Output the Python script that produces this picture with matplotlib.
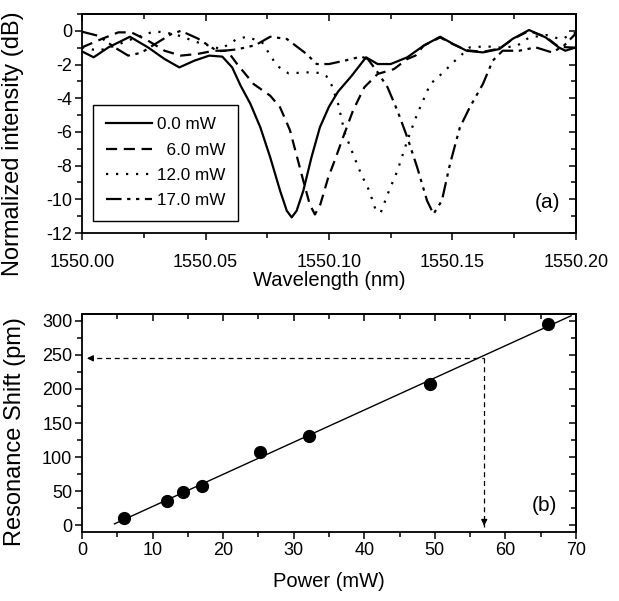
import numpy as np
import matplotlib
matplotlib.use('Agg')
import matplotlib.pyplot as plt
from matplotlib.ticker import MultipleLocator

plt.rcParams['font.family'] = ['Liberation Sans', 'DejaVu Sans']

# (a) transmission spectra, wavelength in nm, intensity in dB
wl_0mw = [1550.000, 1550.0047, 1550.0107, 1550.0194, 1550.0267, 1550.0334, 1550.0394, 1550.0455,
          1550.0515, 1550.0568, 1550.0608, 1550.0642, 1550.0682, 1550.0722, 1550.0762, 1550.0802,
          1550.0829, 1550.0849, 1550.0869, 1550.0896, 1550.0929, 1550.0963, 1550.1000, 1550.1037,
          1550.1090, 1550.1150, 1550.1197, 1550.1250, 1550.1317, 1550.1383, 1550.1450, 1550.1503,
          1550.1557, 1550.1623, 1550.1690, 1550.1743, 1550.1810, 1550.1877, 1550.1930, 1550.1957,
          1550.2000]
db_0mw = [-1.22, -1.57, -0.98, -0.35, -0.98, -1.67, -2.17, -1.77, -1.47, -1.53, -2.17, -3.25,
          -4.34, -5.73, -7.51, -9.49, -10.68, -11.07, -10.68, -9.49, -7.51, -5.73, -4.5, -3.6,
          -2.7, -1.57, -1.97, -1.97, -1.57, -0.88, -0.35, -0.78, -1.18, -1.28, -1.08, -0.48,
          0.05, -0.39, -0.98, -1.18, -0.98]

wl_6mw = [1550.000, 1550.008, 1550.0147, 1550.020, 1550.0267, 1550.0334, 1550.040, 1550.0468,
          1550.0535, 1550.0588, 1550.0628, 1550.0695, 1550.0762, 1550.0802, 1550.0842, 1550.0869,
          1550.0896, 1550.0922, 1550.0943, 1550.0965, 1550.0997, 1550.1023, 1550.1057, 1550.1097,
          1550.1143, 1550.1197, 1550.1263, 1550.1317, 1550.135, 1550.1383, 1550.145, 1550.1503,
          1550.1557, 1550.1623, 1550.169, 1550.1743, 1550.181, 1550.1877, 1550.193, 1550.200]
db_6mw = [-0.98, -0.48, -0.09, -0.09, -0.58, -1.18, -1.47, -1.37, -1.18, -1.18, -1.97, -3.16,
          -3.85, -4.54, -5.9, -7.4, -8.9, -10.3, -10.9, -10.3, -8.7, -7.7, -6.32, -4.74, -3.35,
          -2.56, -2.27, -1.67, -1.47, -0.88, -0.39, -0.8, -1.15, -1.25, -1.05, -0.5, 0.0, -0.35,
          -0.95, -1.0]

wl_12mw = [1550.000, 1550.0067, 1550.0134, 1550.020, 1550.0294, 1550.0374, 1550.0468, 1550.0562,
           1550.0628, 1550.0668, 1550.0729, 1550.0789, 1550.0836, 1550.0922, 1550.0963, 1550.099,
           1550.101, 1550.1037, 1550.1063, 1550.1097, 1550.113, 1550.1163, 1550.119, 1550.121,
           1550.1243, 1550.1277, 1550.1317, 1550.1357, 1550.141, 1550.1463, 1550.1503, 1550.157,
           1550.1637, 1550.170, 1550.176, 1550.181, 1550.188, 1550.194, 1550.200]
db_12mw = [-0.98, -1.18, -0.88, -0.5, -0.02, -0.19, -0.68, -1.08, -0.48, -0.35, -0.68, -2.07,
           -2.52, -2.46, -2.5, -2.7, -3.2, -4.34, -6.02, -7.3, -8.5, -9.49, -10.68, -10.77, -9.49,
           -8.3, -6.52, -4.94, -3.16, -2.46, -1.87, -0.98, -0.92, -1.0, -0.9, -0.4, -0.25, -0.5,
           -0.1]

wl_17mw = [1550.000, 1550.0067, 1550.0134, 1550.0187, 1550.0240, 1550.0294, 1550.0360, 1550.0400,
           1550.0468, 1550.0535, 1550.0562, 1550.0628, 1550.0702, 1550.0762, 1550.0829, 1550.0909,
           1550.0950, 1550.1000, 1550.1063, 1550.1130, 1550.1157, 1550.1197, 1550.1237, 1550.1277,
           1550.1317, 1550.1357, 1550.1397, 1550.1423, 1550.1457, 1550.1490, 1550.1530, 1550.1570,
           1550.1623, 1550.1663, 1550.1703, 1550.1770, 1550.1837, 1550.1903, 1550.1950, 1550.2000]
db_17mw = [-0.05, -0.3, -1.0, -1.47, -1.3, -0.8, -0.2, 0.0, -0.45, -1.08, -1.2, -1.1, -0.85,
           -0.35, -0.48, -1.37, -1.97, -1.97, -1.77, -1.53, -1.67, -2.46, -3.35, -4.74, -6.32,
           -8.1, -10.08, -10.87, -10.08, -7.9, -5.73, -4.54, -3.16, -1.77, -1.18, -1.18, -0.98,
           -1.28, -0.9, -0.15]

labels_a = ['0.0 mW', '\u20076.0 mW', '12.0 mW', '17.0 mW']

# (b) resonance shift vs pump power
power = [6.0, 12.0, 14.3, 17.0, 25.2, 32.2, 49.3, 66.0]
shift = [10, 35, 48, 57, 107, 131, 207, 295]
fit_range = [4.6, 69.3]
target_power = 57
target_shift = 245

fig = plt.figure(figsize=(6.19, 6.01), dpi=100)
ax1 = fig.add_axes([0.1325, 0.6123, 0.798, 0.3644])
ax2 = fig.add_axes([0.1325, 0.1148, 0.798, 0.3627])

styles = ['-', (0, (5, 3)), (0, (1, 3.5)), (0, (7, 2.5, 1.5, 2.5, 1.5, 2.5))]
series = [(wl_0mw, db_0mw), (wl_6mw, db_6mw), (wl_12mw, db_12mw), (wl_17mw, db_17mw)]
for (x, y), ls, lab in zip(series, styles, labels_a):
    ax1.plot(x, y, color='black', lw=1.6, linestyle=ls, label=lab)

ax1.set_xlim(1550.0, 1550.2)
ax1.set_ylim(-12, 1)
ax1.set_xticks([1550.00, 1550.05, 1550.10, 1550.15, 1550.20])
ax1.set_xticklabels(['1550.00', '1550.05', '1550.10', '1550.15', '1550.20'])
ax1.set_yticks([0, -2, -4, -6, -8, -10, -12])
ax1.set_yticklabels(['0', '-2', '-4', '-6', '-8', '-10', '-12'])
ax1.xaxis.set_minor_locator(MultipleLocator(0.025))
ax1.yaxis.set_minor_locator(MultipleLocator(1))
ax1.set_xlabel('Wavelength (nm)', fontsize=14.5, labelpad=0)
ax1.set_ylabel('Normalized intensity (dB)', fontsize=17)
ax1.yaxis.set_label_coords(-0.117, 0.41)
ax1.text(1550.1883, -10.2, '(a)', fontsize=15, ha='center', va='center')

leg = ax1.legend(loc='lower left', bbox_to_anchor=(0.022, 0.055), fontsize=12.3,
                 frameon=True, fancybox=False, framealpha=1, edgecolor='black',
                 handlelength=2.7, handletextpad=0.3, labelspacing=0.6, borderpad=0.75,
                 borderaxespad=0)
leg.get_frame().set_linewidth(1.0)

# (b)
coef = np.polyfit(power, shift, 1)
fx = np.array(fit_range)
ax2.plot(fx, np.polyval(coef, fx), color='black', lw=1.0)
ax2.plot(power, shift, 'o', color='black', markersize=8.5)
ax2.plot([0.8, target_power], [target_shift, target_shift], color='black', lw=0.9, linestyle=(0, (4, 3)))
ax2.plot([target_power, target_power], [target_shift, -2], color='black', lw=0.9, linestyle=(0, (4, 3)))
ax2.annotate('', xy=(0.3, target_shift), xytext=(2.0, target_shift),
             arrowprops=dict(arrowstyle='-|>', color='black', lw=0.9, mutation_scale=9))
ax2.annotate('', xy=(target_power, -5), xytext=(target_power, 5),
             arrowprops=dict(arrowstyle='-|>', color='black', lw=0.9, mutation_scale=9))
ax2.text(65.5, 29, '(b)', fontsize=15, ha='center', va='center')

ax2.set_xlim(0, 70)
ax2.set_ylim(-10, 310)
ax2.xaxis.set_major_locator(MultipleLocator(10))
ax2.xaxis.set_minor_locator(MultipleLocator(5))
ax2.yaxis.set_major_locator(MultipleLocator(50))
ax2.yaxis.set_minor_locator(MultipleLocator(25))
ax2.set_xlabel('Power (mW)', fontsize=14.5, labelpad=9)
ax2.set_ylabel('Resonance Shift (pm)', fontsize=17)
ax2.yaxis.set_label_coords(-0.113, 0.46)

for ax, xpad in ((ax1, 10), (ax2, 2.5)):
    for s in ax.spines.values():
        s.set_linewidth(1.3)
    ax.tick_params(which='both', direction='out', labelsize=13, width=1.1)
    ax.tick_params(axis='x', which='both', pad=xpad)
    ax.tick_params(axis='y', which='both', pad=2)
    ax.tick_params(which='major', length=5)
    ax.tick_params(which='minor', length=3.5)
    # mirrored ticks pointing inward on top and right
    top = ax.secondary_xaxis('top')
    top.xaxis.set_major_locator(ax.xaxis.get_major_locator())
    top.xaxis.set_minor_locator(ax.xaxis.get_minor_locator())
    right = ax.secondary_yaxis('right')
    right.yaxis.set_major_locator(ax.yaxis.get_major_locator())
    right.yaxis.set_minor_locator(ax.yaxis.get_minor_locator())
    for sec in (top, right):
        sec.tick_params(which='both', direction='in', width=1.1, labeltop=False, labelright=False)
        sec.tick_params(which='major', length=5)
        sec.tick_params(which='minor', length=3.5)
        for s in sec.spines.values():
            s.set_linewidth(1.3)

plt.savefig('out.png', dpi=100)
